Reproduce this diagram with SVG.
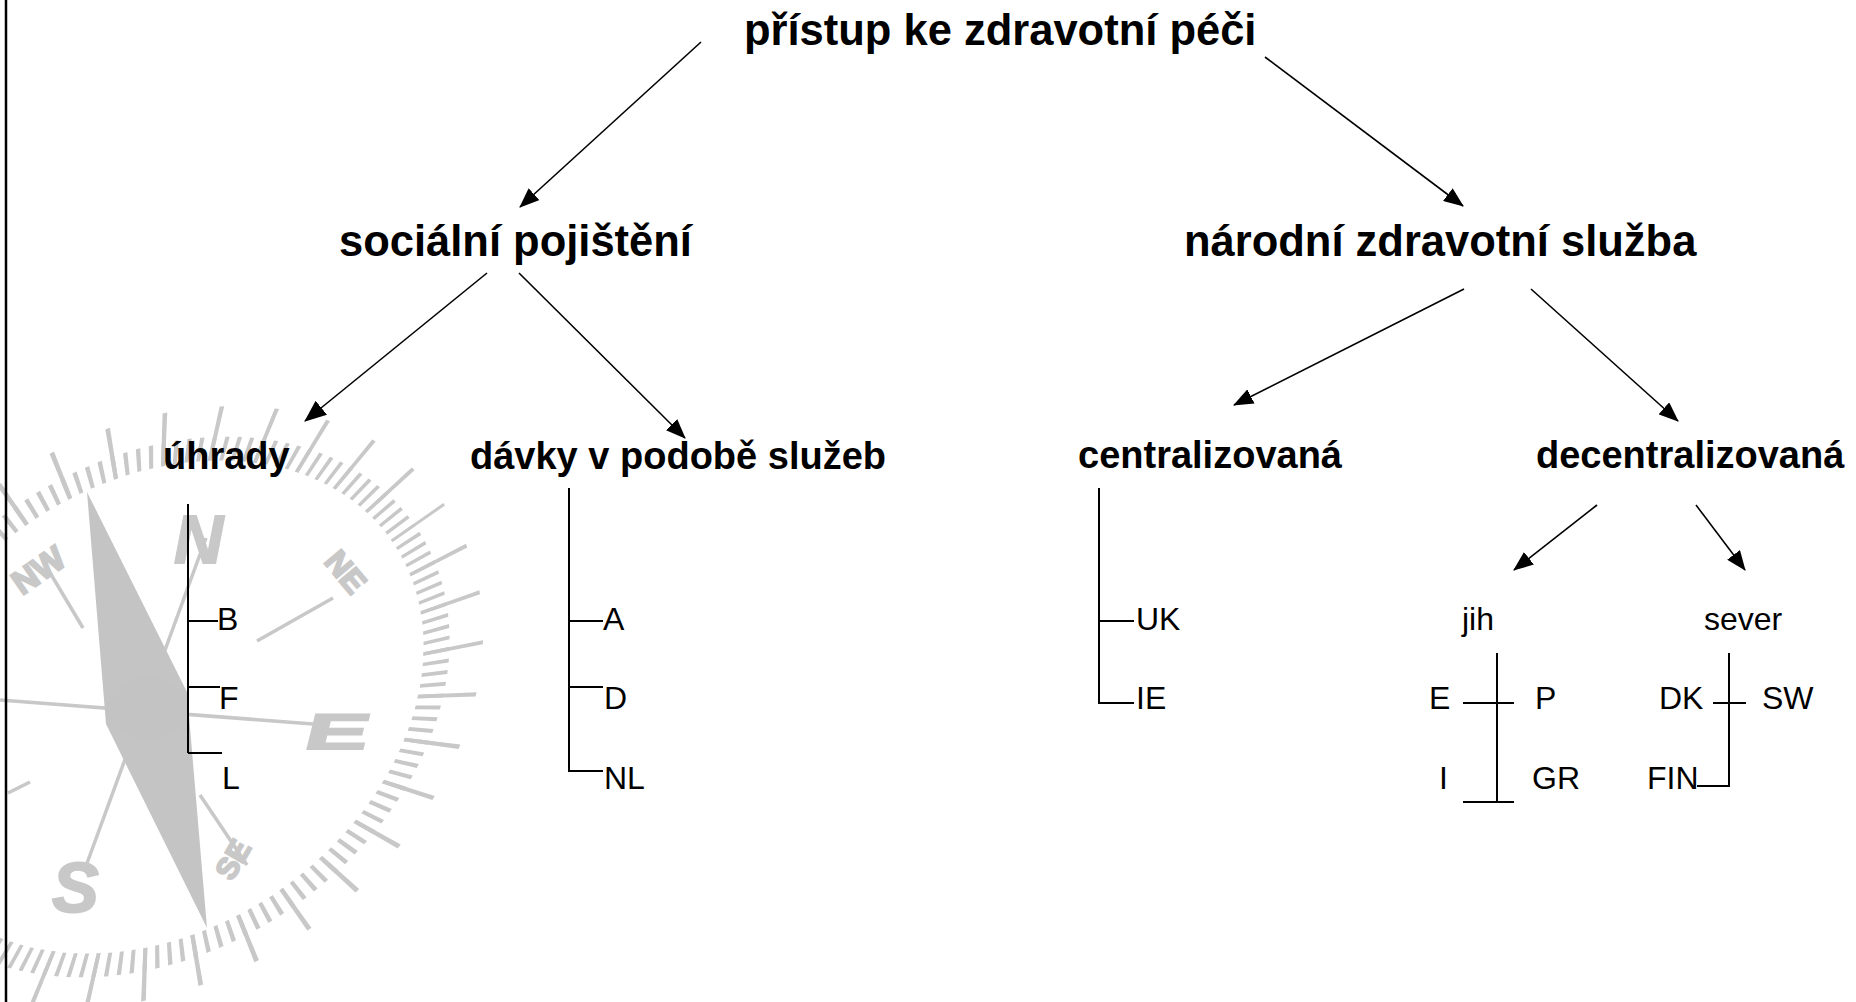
<svg xmlns="http://www.w3.org/2000/svg" width="1856" height="1002" viewBox="0 0 1856 1002">
  <style>
    .bold { font-family: "Liberation Sans", Arial, sans-serif; font-weight: bold; fill: #000; }
    .h1 { font-size: 43.5px; }
    .h2 { font-size: 43.5px; }
    .h3 { font-size: 38px; }
    .lbl { font-family: "Liberation Sans", Arial, sans-serif; font-size: 32px; fill: #000; }
    .conn { stroke: #000; stroke-width: 1.6; fill: none; }
    .br { stroke: #000; stroke-width: 2; fill: none; }
    .cg { stroke: #c8c8c8; fill: none; }
    .ctxt { font-family: "Liberation Sans", Arial, sans-serif; font-weight: bold; fill: #c8c8c8; stroke: #c8c8c8; stroke-width: 2; }
  </style>
  <defs>
    <marker id="ah" viewBox="0 0 20 16" refX="19" refY="8" markerWidth="20" markerHeight="16" markerUnits="userSpaceOnUse" orient="auto">
      <path d="M0,0 L20,8 L0,16 Z" fill="#000"/>
    </marker>
    <marker id="ahBig" viewBox="0 0 22 18" refX="21" refY="9" markerWidth="22" markerHeight="18" markerUnits="userSpaceOnUse" orient="auto">
      <path d="M0,0 L22,9 L0,18 Z" fill="#000"/>
    </marker>
  </defs>

  <rect x="0" y="0" width="1856" height="1002" fill="#fff"/>

  <!-- compass rose watermark -->
  <g id="compass">
    <g transform="translate(154,707) rotate(-35) scale(1,0.766)">
      <circle class="cg" r="304" stroke-width="28" stroke-dasharray="4.5 8.7645" stroke-dashoffset="2.25"/>
      <circle class="cg" r="322" stroke-width="64" stroke-dasharray="4.6 51.5996" stroke-dashoffset="2.3"/>
    </g>
    <g stroke="#c8c8c8" stroke-width="3.5" fill="none">
      <line x1="206" y1="538" x2="86" y2="866"/>
      <line x1="0" y1="700" x2="313" y2="724"/>
      <line x1="43" y1="561" x2="83" y2="628"/>
      <line x1="257" y1="641" x2="333" y2="598"/>
      <line x1="200" y1="795" x2="247" y2="865"/>
      <line x1="8" y1="793" x2="30" y2="782"/>
    </g>
    <polygon points="87,492 187,692 207,928 106,724" fill="#c4c4c4"/>
    <ellipse cx="147" cy="708" rx="40" ry="30" fill="#c0c0c0" opacity="0.3"/>
    <text class="ctxt" x="174" y="563" font-size="68" font-style="italic">N</text>
    <text class="ctxt" transform="translate(302,749) skewX(-14) scale(1.9,1)" font-size="50">E</text>
    <text class="ctxt" x="52" y="912" font-size="70" font-style="italic">S</text>
    <text class="ctxt" transform="translate(22,596) rotate(-35)" font-size="34">NW</text>
    <text class="ctxt" transform="translate(323,562) rotate(50)" font-size="32">NE</text>
    <text class="ctxt" transform="translate(232,882) rotate(-60)" font-size="30">SE</text>
  </g>

  <!-- left frame edge -->
  <line x1="6" y1="0" x2="6" y2="1002" stroke="#000" stroke-width="2.5"/>

  <!-- connectors -->
  <g id="connectors">
    <line class="conn" x1="701" y1="42" x2="520" y2="207" marker-end="url(#ah)"/>
    <line class="conn" x1="1265" y1="57" x2="1463" y2="206" marker-end="url(#ah)"/>
    <line class="conn" x1="487" y1="273" x2="305" y2="421" stroke-width="2.4" marker-end="url(#ahBig)"/>
    <line class="conn" x1="519" y1="273" x2="685" y2="438" marker-end="url(#ah)"/>
    <line class="conn" x1="1464" y1="289" x2="1234" y2="405" marker-end="url(#ah)"/>
    <line class="conn" x1="1531" y1="289" x2="1678" y2="421" marker-end="url(#ah)"/>
    <line class="conn" x1="1597" y1="505" x2="1514" y2="570" stroke-width="1.8" marker-end="url(#ah)"/>
    <line class="conn" x1="1696" y1="505" x2="1745" y2="570" stroke-width="1.8" marker-end="url(#ah)"/>
  </g>

  <g id="root">
    <text class="bold h1" x="744" y="45">přístup ke zdravotní péči</text>
  </g>
  <g id="social-insurance">
    <text class="bold h2" x="339" y="256">sociální pojištění</text>
  </g>
  <g id="national-health-service">
    <text class="bold h2" x="1184" y="256">národní zdravotní služba</text>
  </g>

  <g id="reimbursement">
    <text class="bold h3" x="163" y="469">úhrady</text>
    <path class="br" d="M188,504 V753 M188,621 H218 M188,687 H220 M188,753 H222"/>
    <text class="lbl" x="217" y="630">B</text>
    <text class="lbl" x="219" y="709">F</text>
    <text class="lbl" x="222" y="789">L</text>
  </g>

  <g id="benefits-in-kind">
    <text class="bold h3" x="470" y="469">dávky v podobě služeb</text>
    <path class="br" d="M569,488 V771 H603 M569,621 H603 M569,687 H603"/>
    <text class="lbl" x="603" y="630">A</text>
    <text class="lbl" x="604" y="709">D</text>
    <text class="lbl" x="604" y="789">NL</text>
  </g>

  <g id="centralized">
    <text class="bold h3" x="1078" y="468">centralizovaná</text>
    <path class="br" d="M1099,488 V703 H1134 M1099,621 H1134"/>
    <text class="lbl" x="1136" y="630">UK</text>
    <text class="lbl" x="1136" y="709">IE</text>
  </g>

  <g id="decentralized">
    <text class="bold h3" x="1536" y="468">decentralizovaná</text>
  </g>

  <g id="south">
    <text class="lbl" x="1462" y="630">jih</text>
    <path class="br" d="M1497,653 V802 M1463,703 H1514 M1463,802 H1514"/>
    <text class="lbl" x="1429" y="709">E</text>
    <text class="lbl" x="1535" y="709">P</text>
    <text class="lbl" x="1439" y="789">I</text>
    <text class="lbl" x="1532" y="789">GR</text>
  </g>

  <g id="north">
    <text class="lbl" x="1704" y="630">sever</text>
    <path class="br" d="M1729,653 V786 H1697 M1713,703 H1746"/>
    <text class="lbl" x="1659" y="709">DK</text>
    <text class="lbl" x="1762" y="709">SW</text>
    <text class="lbl" x="1647" y="789">FIN</text>
  </g>
</svg>
